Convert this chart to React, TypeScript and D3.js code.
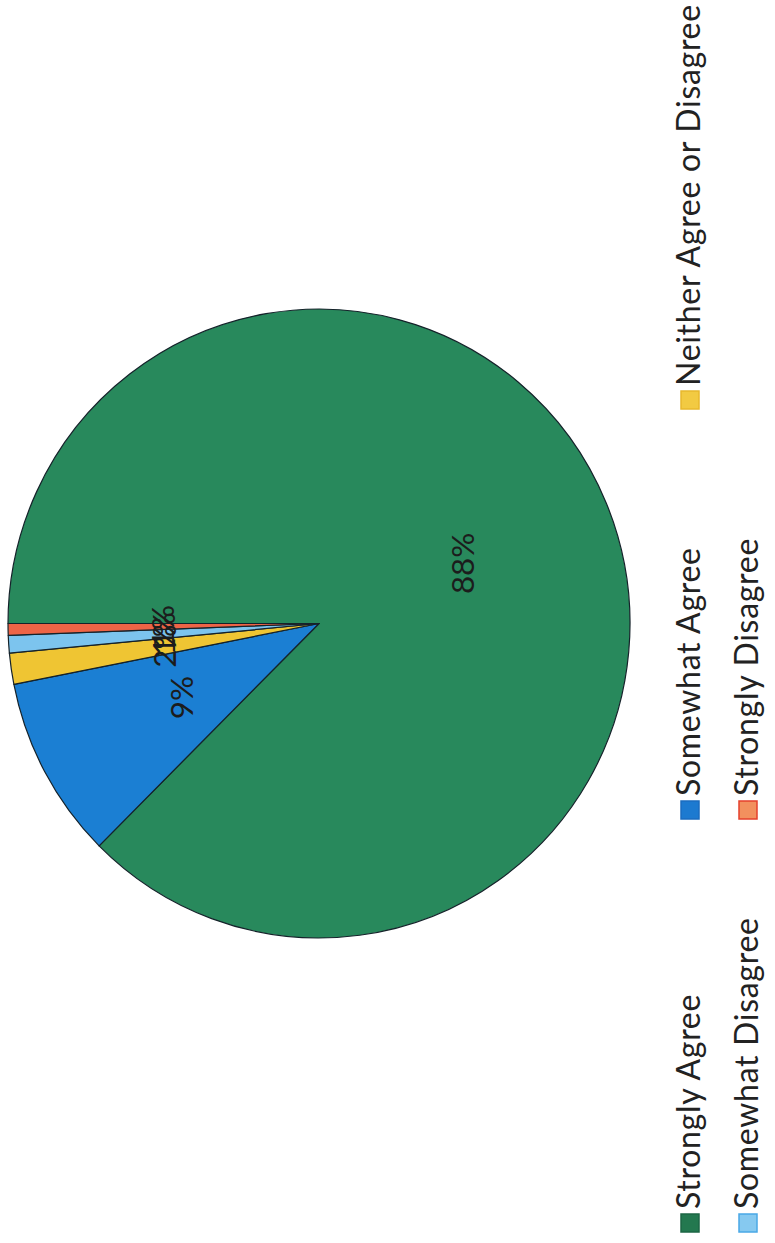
import React from 'react'
import * as d3 from 'd3'

// survey answers (the page is rotated 90deg)
const categories = [
    'Strongly Agree',
    'Somewhat Agree',
    'Neither Agree or Disagree',
    'Somewhat Disagree',
    'Strongly Disagree',
]
const values = [87.5, 9.4, 1.6, 0.9, 0.6]
const sliceColors = ['#28895c', '#1b7fd3', '#efc533', '#7cc4ee', '#ee6446']
const swatchColors = ['#23784f', '#1c7ad0', '#f2ca42', '#86c9f0', '#f2905e']
const swatchBorders = ['#1d6644', '#1a6cc0', '#e8b82c', '#4aa8e6', '#e5402c']

// legend grid: 3 columns x 2 rows (in the unrotated frame)
const legendCols = [20, 433, 843]
const legendRows = [700, 758]

const W = 775
const H = 1243

export default function App() {
    // the whole chart lies on its side: local u = page height, local v = page width
    const cx = 619.5, cy = 319, r = 311
    const total = d3.sum(values)

    const pie = d3.pie<number>().sort(null).value(d => d)
    const arcs = pie(values)
    const arc = d3.arc<d3.PieArcDatum<number>>().innerRadius(0).outerRadius(r)

    const font = "Lato, 'Open Sans', sans-serif"

    return (
        <svg width={W} height={H}
            style={{ position: 'absolute', left: 0, top: 0, background: '#fff' }}>
            <g transform={`translate(0,${H}) rotate(-90)`}>
                {/* scan is a touch taller than wide */}
                <g transform={`translate(${cx},${cy}) scale(1.011,1)`}>
                    {arcs.map((a, i) => (
                        <path key={'s' + i} d={arc(a) || ''} fill={sliceColors[i]}
                            stroke="#15222a" strokeWidth={1.2} strokeLinejoin="round" />
                    ))}
                    {arcs.map((a, i) => {
                        const [x, y] = arc.centroid(a)
                        return (
                            <text key={'l' + i} x={x} y={y} textAnchor="middle" dy="0.35em"
                                fontFamily={font} fontSize={31} fill="#1c1c1c">
                                {Math.round(values[i] / total * 100) + '%'}
                            </text>
                        )
                    })}
                </g>
                {categories.map((c, i) => {
                    const col = legendCols[i % 3]
                    const row = legendRows[Math.floor(i / 3)]
                    return (
                        <g key={'lg' + i}>
                            <rect x={col - 9} y={row - 19} width={18} height={18}
                                fill={swatchColors[i]} stroke={swatchBorders[i]} strokeWidth={1.5} />
                            <text x={col + 14} y={row} fontFamily={font} fontSize={32}
                                letterSpacing={0.7} fill="#222">
                                {c}
                            </text>
                        </g>
                    )
                })}
            </g>
        </svg>
    )
}
